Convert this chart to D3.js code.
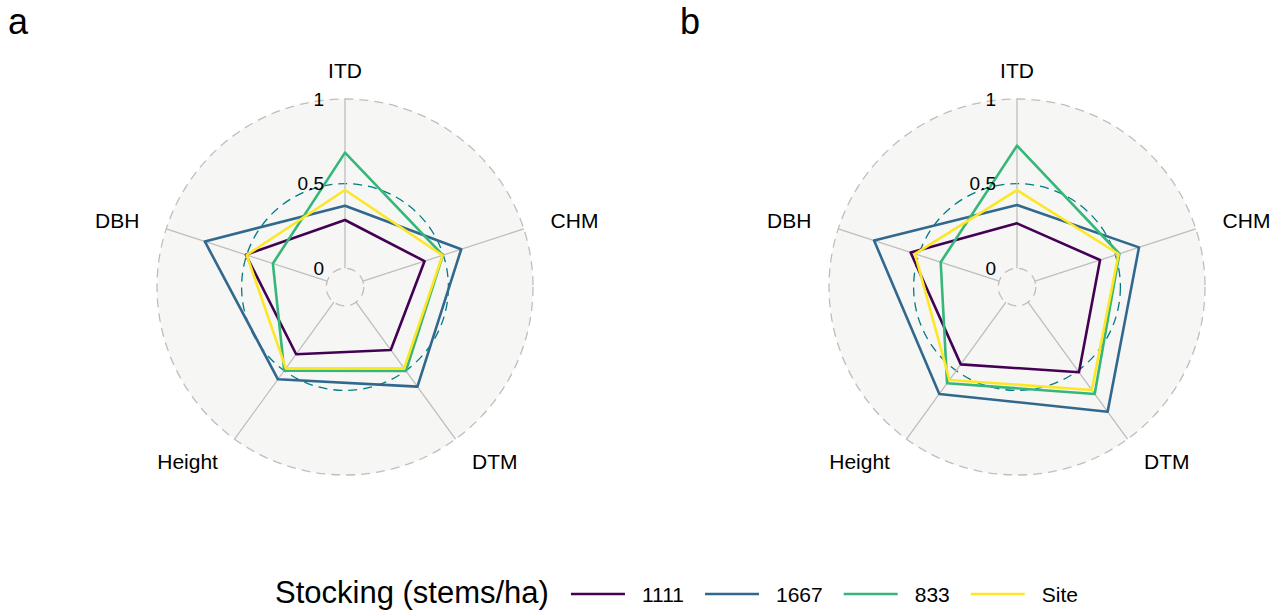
<!DOCTYPE html>
<html>
<head>
<meta charset="utf-8">
<script src="https://cdn.jsdelivr.net/npm/d3@7"></script>
<style>
  body { margin: 0; background: #fff; }
  text { font-family: "Liberation Sans", Arial, sans-serif; fill: #000; }
</style>
</head>
<body>
<svg id="chart" width="1282" height="612"></svg>
<script>
var axisNames = ["ITD", "CHM", "DTM", "Height", "DBH"];
var groupNames = ["1111", "1667", "833", "Site"];
var groupColors = ["#440154", "#31688E", "#35B779", "#FDE725"];
var gridValues = [0, 0.5, 1];
var gridLabels = ["0", "0.5", "1"];
var panelLabels = ["a", "b"];

// panel a values, one per axis (ITD, CHM, DTM, Height, DBH)
var a_1111 = [0.285, 0.383, 0.349, 0.380, 0.505];
var a_1667 = [0.369, 0.611, 0.617, 0.563, 0.760];
var a_833  = [0.683, 0.497, 0.502, 0.500, 0.337];
var a_site = [0.462, 0.495, 0.483, 0.483, 0.500];

// panel b values
var b_1111 = [0.265, 0.405, 0.512, 0.454, 0.550];
var b_1667 = [0.374, 0.647, 0.800, 0.670, 0.777];
var b_833  = [0.724, 0.525, 0.670, 0.592, 0.363];
var b_site = [0.462, 0.520, 0.641, 0.568, 0.523];

var panels = [
  { label: panelLabels[0], cx: 345, series: [a_1111, a_1667, a_833, a_site] },
  { label: panelLabels[1], cx: 1017, series: [b_1111, b_1667, b_833, b_site] }
];

var svg = d3.select("#chart");
svg.append("rect").attr("width", 1282).attr("height", 612).attr("fill", "#fff");

var outerR = 188;
var cy = 287;
// ggradar style: value 0 sits on a small inner circle, not at the centre
var rScale = d3.scaleLinear().domain([-1 / 9, 1]).range([0, outerR]);
var aScale = d3.scaleLinear().domain([0, axisNames.length]).range([0, 2 * Math.PI]);
var color = d3.scaleOrdinal().domain(groupNames).range(groupColors);
var gridColors = ["#BEBEBE", "#007A87", "#BEBEBE"];

var line = d3.lineRadial()
  .angle(function(d, i) { return aScale(i); })
  .radius(function(d) { return rScale(d); })
  .curve(d3.curveLinearClosed);

panels.forEach(function(p) {
  var g = svg.append("g").attr("transform", "translate(" + p.cx + "," + cy + ")");

  g.append("circle").attr("r", rScale(1)).attr("fill", "#F6F6F5");

  g.selectAll(".grid")
    .data(gridValues)
    .enter().append("circle")
    .attr("class", "grid")
    .attr("r", function(d) { return rScale(d); })
    .attr("fill", "none")
    .attr("stroke", function(d, i) { return gridColors[i]; })
    .attr("stroke-width", 1.3)
    .attr("stroke-dasharray", "9,6");

  g.selectAll(".axis")
    .data(axisNames)
    .enter().append("line")
    .attr("class", "axis")
    .attr("x1", function(d, i) { return rScale(0) * Math.sin(aScale(i)); })
    .attr("y1", function(d, i) { return -rScale(0) * Math.cos(aScale(i)); })
    .attr("x2", function(d, i) { return rScale(1) * Math.sin(aScale(i)); })
    .attr("y2", function(d, i) { return -rScale(1) * Math.cos(aScale(i)); })
    .attr("stroke", "#BEBEBE")
    .attr("stroke-width", 1.3);

  g.selectAll(".series")
    .data(p.series)
    .enter().append("path")
    .attr("class", "series")
    .attr("d", function(d) { return line(d); })
    .attr("fill", "none")
    .attr("stroke", function(d, i) { return color(groupNames[i]); })
    .attr("stroke-width", 2.6)
    .attr("stroke-linejoin", "round");

  g.selectAll(".gridlab")
    .data(gridValues)
    .enter().append("text")
    .attr("class", "gridlab")
    .attr("x", -21)
    .attr("y", function(d) { return -rScale(d); })
    .attr("text-anchor", "end")
    .attr("dominant-baseline", "central")
    .style("font-size", "19px")
    .text(function(d, i) { return gridLabels[i]; });

  var labR = rScale(1) * 1.15;
  g.selectAll(".axlab")
    .data(axisNames)
    .enter().append("text")
    .attr("class", "axlab")
    .attr("x", function(d, i) { return labR * Math.sin(aScale(i)); })
    .attr("y", function(d, i) { return -labR * Math.cos(aScale(i)); })
    .attr("text-anchor", function(d, i) {
      var x = Math.sin(aScale(i));
      if (Math.abs(x) < 0.01) return "middle";
      return x > 0 ? "start" : "end";
    })
    .attr("dominant-baseline", "central")
    .style("font-size", "21px")
    .text(function(d) { return d; });

  svg.append("text")
    .attr("x", p.cx - 337)
    .attr("y", 34)
    .style("font-size", "36px")
    .text(p.label);
});

// legend
var legend = svg.append("g");
var lx = 275, ly = 594;
var title = legend.append("text")
  .attr("x", lx).attr("y", ly + 9)
  .style("font-size", "31px")
  .text("Stocking (stems/ha)");
lx += title.node().getComputedTextLength() + 22;
groupNames.forEach(function(name) {
  legend.append("line")
    .attr("x1", lx).attr("x2", lx + 54)
    .attr("y1", ly).attr("y2", ly)
    .attr("stroke", color(name))
    .attr("stroke-width", 2.6);
  lx += 54 + 17;
  var t = legend.append("text")
    .attr("x", lx).attr("y", ly + 8)
    .style("font-size", "21px")
    .text(name);
  lx += t.node().getComputedTextLength() + 21;
});
</script>
</body>
</html>
